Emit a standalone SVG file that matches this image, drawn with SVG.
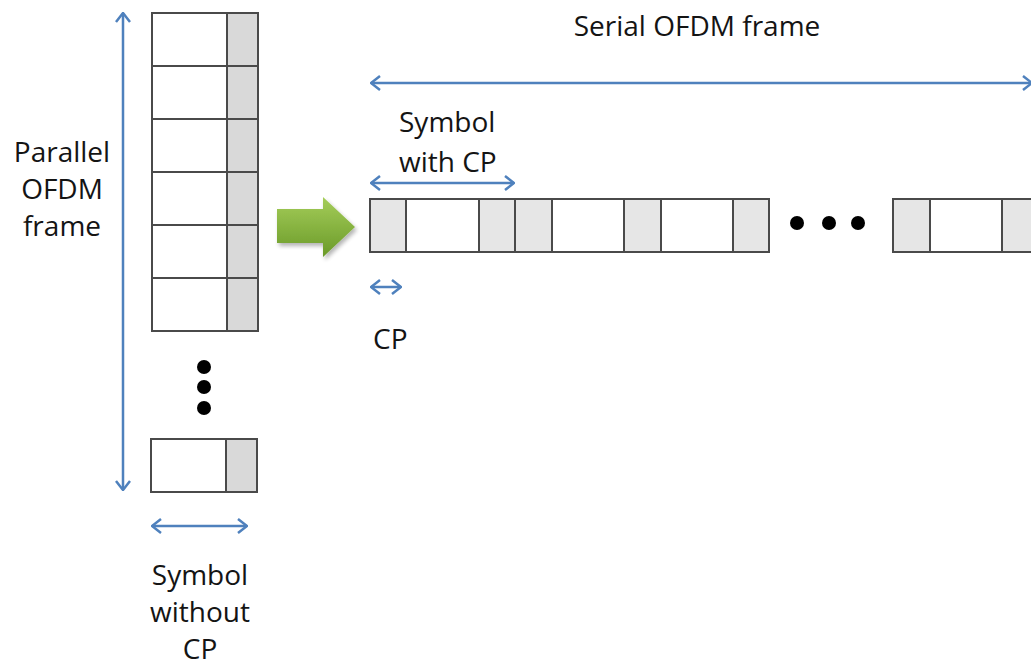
<svg xmlns="http://www.w3.org/2000/svg" width="1031" height="665" viewBox="0 0 1031 665">
  <defs>
    <style>
      .lbl { font-family: "Open Sans", "Liberation Sans", sans-serif; font-size: 28px; fill: #141414; }
      .data { fill: #ffffff; stroke: #4a4a4a; stroke-width: 2; }
      .cp { fill: #d9d9d9; stroke: #4a4a4a; stroke-width: 2; }
      .cp2 { fill: #e6e6e6; stroke: #4a4a4a; stroke-width: 2; }
      .dim { fill: none; stroke: #4f81bd; stroke-width: 2.5; }
    </style>
    <marker id="head" viewBox="0 0 12 16" refX="11" refY="8" markerWidth="12" markerHeight="16" markerUnits="userSpaceOnUse" orient="auto-start-reverse">
      <polyline points="2,1 11,8 2,15" fill="none" stroke="#4f81bd" stroke-width="2.5"/>
    </marker>
    <linearGradient id="greenFill" x1="0" y1="0" x2="0" y2="1">
      <stop offset="0" stop-color="#a5cd5a"/>
      <stop offset="1" stop-color="#6a9a28"/>
    </linearGradient>
    <filter id="soft" x="-20%" y="-20%" width="150%" height="150%">
      <feGaussianBlur in="SourceAlpha" stdDeviation="2"/>
      <feOffset dx="2" dy="3" result="off"/>
      <feComponentTransfer><feFuncA type="linear" slope="0.3"/></feComponentTransfer>
      <feMerge><feMergeNode/><feMergeNode in="SourceGraphic"/></feMerge>
    </filter>
  </defs>

  <rect width="1031" height="665" fill="#ffffff"/>

  <!-- parallel frame: one row per symbol, CP slot on the right -->
  <g id="parallel-frame">
    <rect class="data" x="152" y="13" width="75" height="53"/><rect class="cp" x="227" y="13" width="31" height="53"/>
    <rect class="data" x="152" y="66" width="75" height="53"/><rect class="cp" x="227" y="66" width="31" height="53"/>
    <rect class="data" x="152" y="119" width="75" height="53"/><rect class="cp" x="227" y="119" width="31" height="53"/>
    <rect class="data" x="152" y="172" width="75" height="53"/><rect class="cp" x="227" y="172" width="31" height="53"/>
    <rect class="data" x="152" y="225" width="75" height="53"/><rect class="cp" x="227" y="225" width="31" height="53"/>
    <rect class="data" x="152" y="278" width="75" height="53"/><rect class="cp" x="227" y="278" width="31" height="53"/>
    <circle cx="204" cy="367" r="7" fill="#000"/>
    <circle cx="204" cy="387" r="7" fill="#000"/>
    <circle cx="204" cy="408" r="7" fill="#000"/>
    <rect class="data" x="151" y="439" width="75" height="53"/><rect class="cp" x="226" y="439" width="31" height="53"/>
  </g>

  <g id="parallel-label">
    <text class="lbl" x="62" y="162" text-anchor="middle">Parallel</text>
    <text class="lbl" x="62" y="199" text-anchor="middle">OFDM</text>
    <text class="lbl" x="62" y="236" text-anchor="middle">frame</text>
  </g>

  <g id="symbol-without-cp-label">
    <text class="lbl" x="200" y="585" text-anchor="middle">Symbol</text>
    <text class="lbl" x="200" y="622" text-anchor="middle">without</text>
    <text class="lbl" x="200" y="659" text-anchor="middle">CP</text>
  </g>

  <!-- parallel-to-serial block arrow -->
  <g id="convert-arrow">
    <path d="M277,209 L323,209 L323,197 L355,227 L323,257 L323,243 L277,243 Z" fill="url(#greenFill)" filter="url(#soft)"/>
  </g>

  <!-- serial frame: CP + data per symbol -->
  <g id="serial-frame">
    <rect class="cp2" x="370" y="199" width="36" height="53"/>
    <rect class="data" x="406" y="199" width="73" height="53"/>
    <rect class="cp2" x="479" y="199" width="36" height="53"/>
    <rect class="cp2" x="515" y="199" width="37" height="53"/>
    <rect class="data" x="552" y="199" width="72" height="53"/>
    <rect class="cp2" x="624" y="199" width="37" height="53"/>
    <rect class="data" x="661" y="199" width="72" height="53"/>
    <rect class="cp2" x="733" y="199" width="36" height="53"/>
    <circle cx="797" cy="223" r="7" fill="#000"/>
    <circle cx="829" cy="223" r="7" fill="#000"/>
    <circle cx="858" cy="223" r="7" fill="#000"/>
    <rect class="cp2" x="893" y="199" width="37" height="53"/>
    <rect class="data" x="930" y="199" width="72" height="53"/>
    <rect class="cp2" x="1002" y="199" width="36" height="53"/>
  </g>

  <g id="serial-labels">
    <text class="lbl" x="697" y="36" text-anchor="middle">Serial OFDM frame</text>
    <text class="lbl" x="399" y="132">Symbol</text>
    <text class="lbl" x="399" y="172">with CP</text>
    <text class="lbl" x="373" y="349">CP</text>
  </g>

  <!-- dimension arrows -->
  <g id="connectors">
    <line class="dim" x1="123" y1="13" x2="123" y2="490" marker-start="url(#head)" marker-end="url(#head)"/>
    <line class="dim" x1="152" y1="526" x2="247" y2="526" marker-start="url(#head)" marker-end="url(#head)"/>
    <line class="dim" x1="371" y1="83" x2="1032" y2="83" marker-start="url(#head)" marker-end="url(#head)"/>
    <line class="dim" x1="371" y1="183" x2="514" y2="183" marker-start="url(#head)" marker-end="url(#head)"/>
    <line class="dim" x1="371" y1="287" x2="401" y2="287" marker-start="url(#head)" marker-end="url(#head)"/>
  </g>
</svg>
